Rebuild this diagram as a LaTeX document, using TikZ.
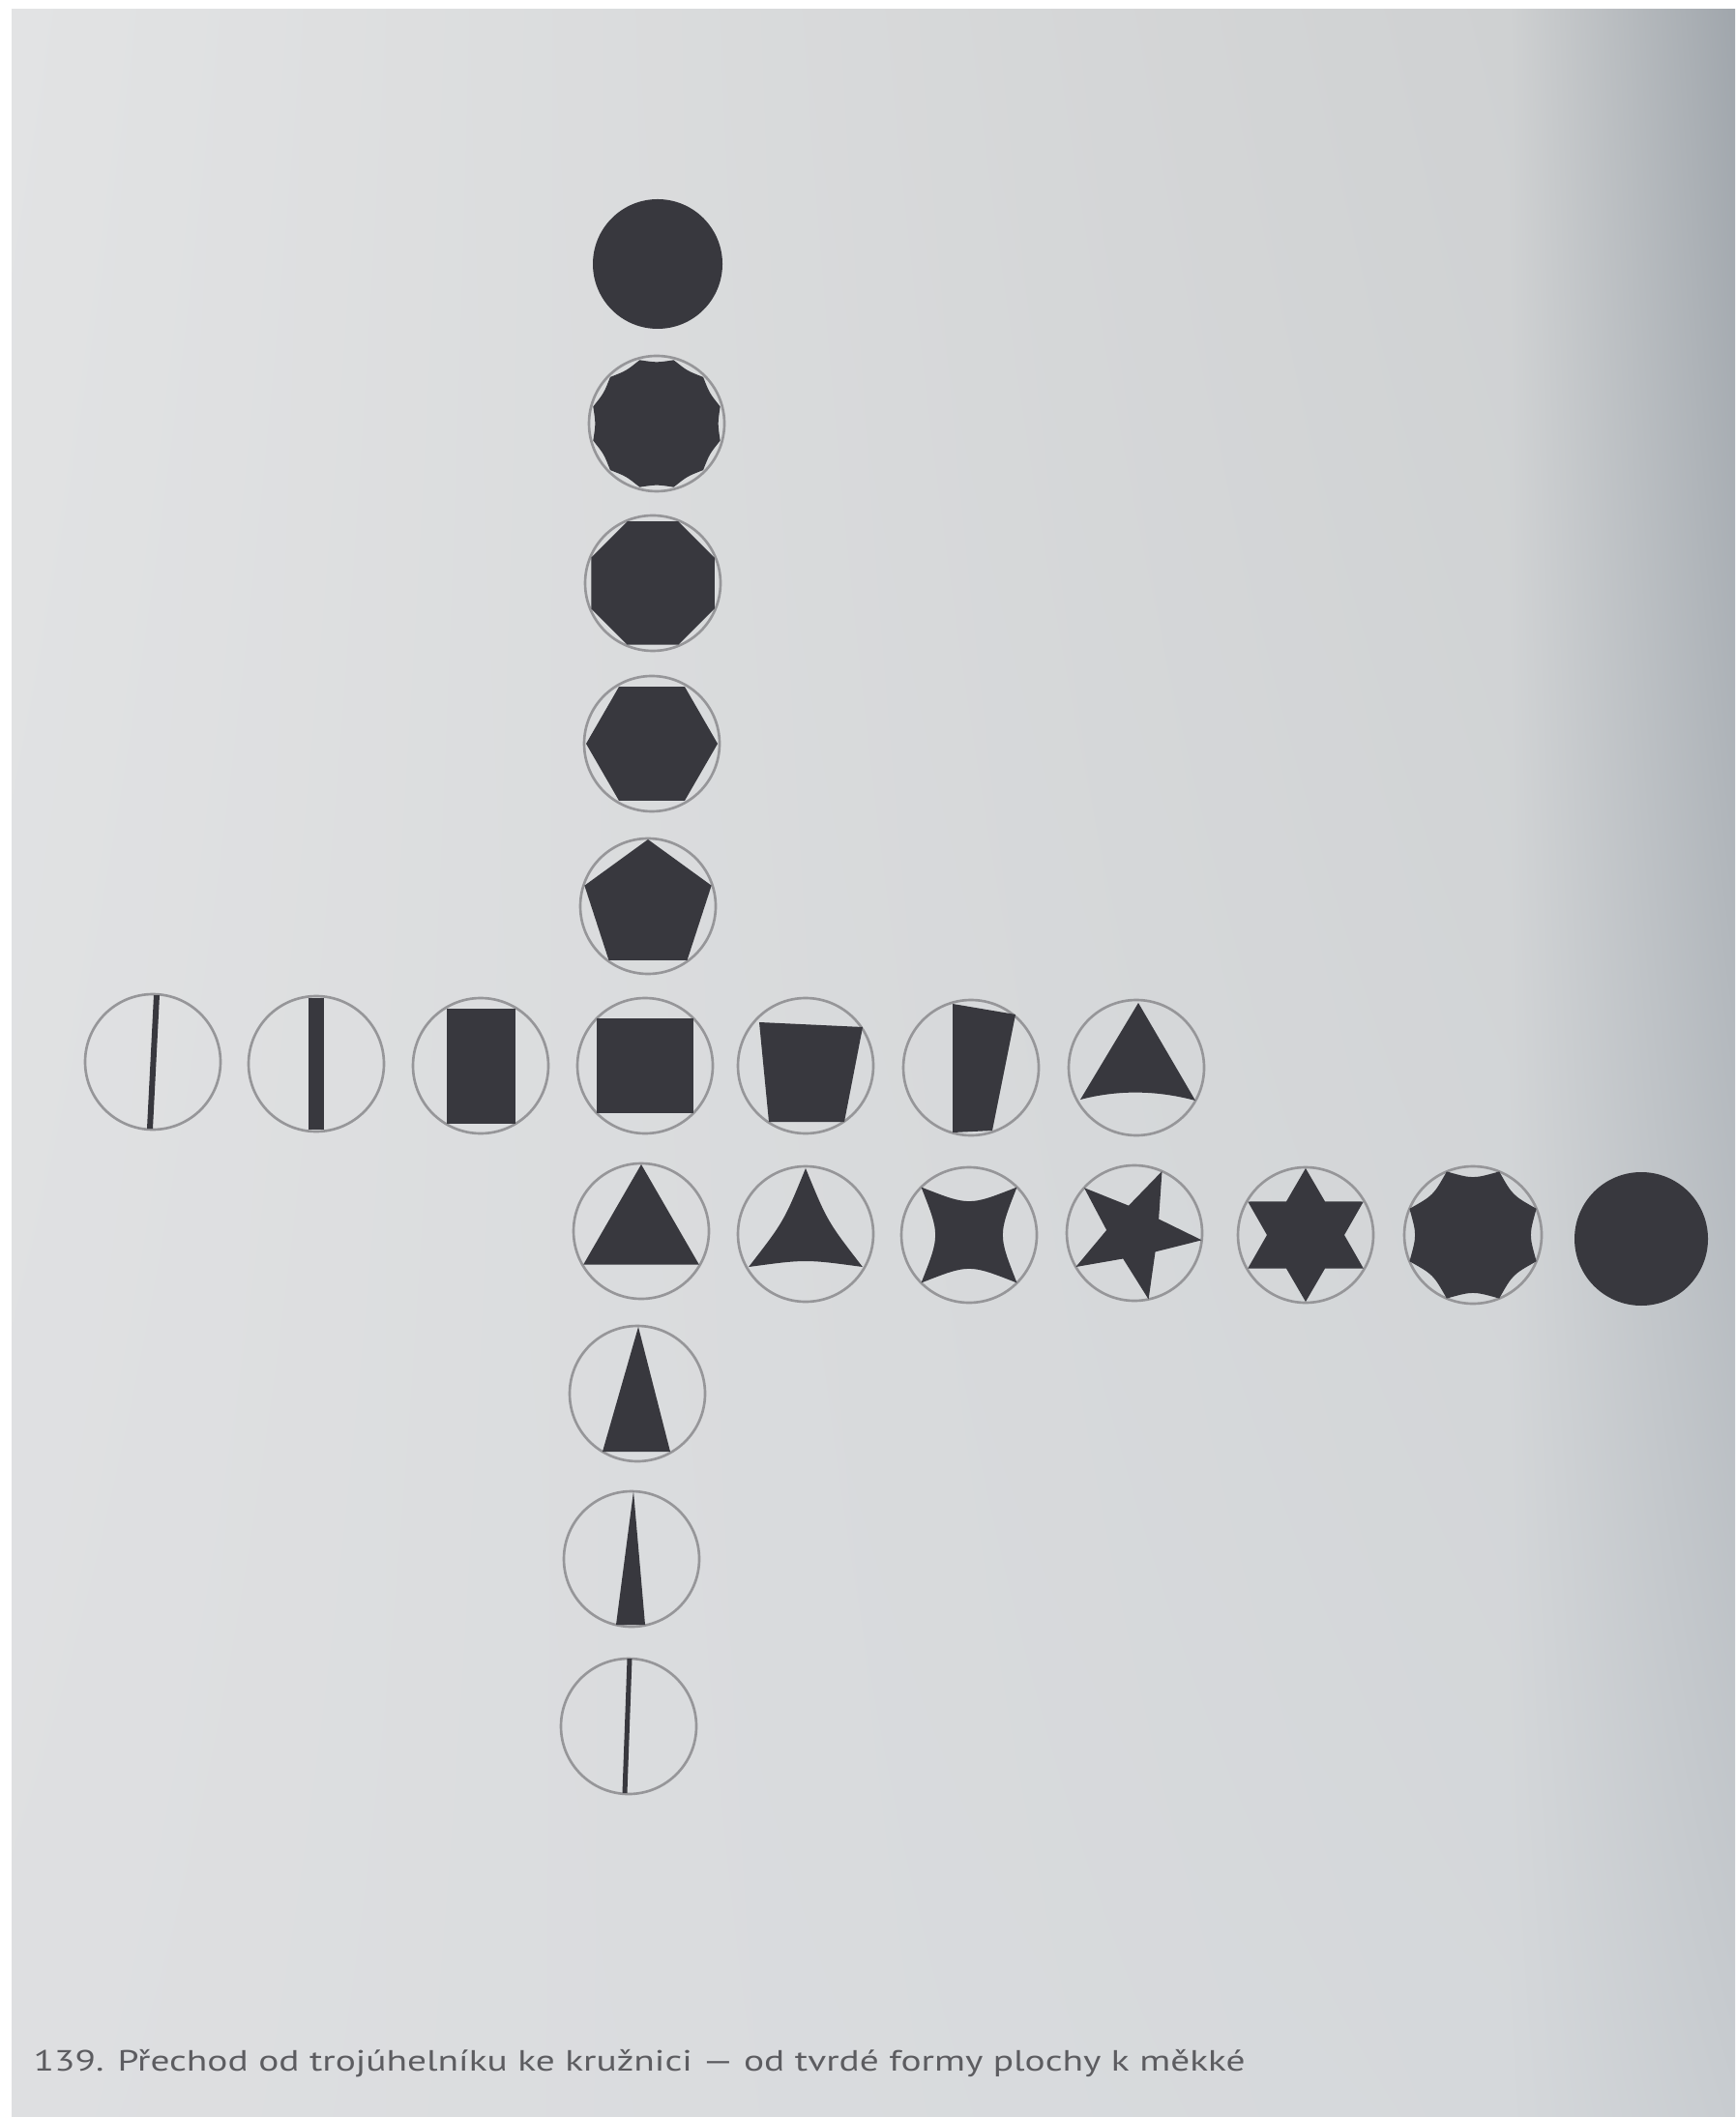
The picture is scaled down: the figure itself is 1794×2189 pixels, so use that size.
\documentclass[tikz,border=0pt]{standalone}
\usepackage{fontspec}
\usepackage{graphicx}
\usetikzlibrary{shadings}
\setmainfont{PT Sans}
\definecolor{ink}{RGB}{56,56,62}
\definecolor{guide}{RGB}{150,150,153}
\definecolor{captxt}{RGB}{92,92,96}
\definecolor{bgA}{RGB}{226,227,228}
\definecolor{bgB}{RGB}{207,209,210}
\definecolor{bgC}{RGB}{222,223,225}
\definecolor{bgD}{RGB}{213,216,219}
\definecolor{bgE}{RGB}{160,166,172}
\definecolor{bgF}{RGB}{200,204,208}
\begin{document}
\begin{tikzpicture}[x=0.01cm,y=0.01cm,
  guidecircle/.style={draw=guide,line width=0.75pt},
  blot/.style={fill=ink}]
\useasboundingbox (0,0) rectangle (1794,-2189);
% background page
\fill[white] (0,0) rectangle (1794,-2189);
\shade[upper left=bgA, upper right=bgB, lower left=bgC, lower right=bgD] (12,-10) rectangle (1560,-2189);
\shade[upper left=bgB, upper right=bgE, lower left=bgD, lower right=bgF] (1560,-10) rectangle (1794,-2189);

% ---------- vertical column (upper part) ----------
% circle
\fill[blot] (680,-273) circle[radius=67];
% scalloped 12-gon
\begin{scope}[shift={(679,-438)}]
  \draw[guidecircle] (0,0) circle[radius=70];
  \fill[blot] (15:68) foreach \i [evaluate=\i as \a using 15+30*\i, evaluate=\i as \m using 30*\i] in {1,...,12} { .. controls (\m:63) and (\m:63) .. (\a:68) } -- cycle;
\end{scope}
% octagon
\begin{scope}[shift={(675,-603)}]
  \draw[guidecircle] (0,0) circle[radius=70];
  \fill[blot] (22.5:69) foreach \a in {67.5,112.5,157.5,202.5,247.5,292.5,337.5} { -- (\a:69) } -- cycle;
\end{scope}
% hexagon
\begin{scope}[shift={(674,-769)}]
  \draw[guidecircle] (0,0) circle[radius=70];
  \fill[blot] (0:68) foreach \a in {60,120,180,240,300} { -- (\a:68) } -- cycle;
\end{scope}
% pentagon
\begin{scope}[shift={(670,-937)}]
  \draw[guidecircle] (0,0) circle[radius=70];
  \fill[blot] (90:69) foreach \a in {162,234,306,18} { -- (\a:69) } -- cycle;
\end{scope}

% ---------- horizontal row 1 ----------
\begin{scope}[shift={(158,-1098)}]
  \draw[guidecircle] (0,0) circle[radius=70];
  \fill[blot] (1,69) -- (7,69) -- (0,-69) -- (-6,-69) -- cycle;
\end{scope}
\begin{scope}[shift={(327,-1100)}]
  \draw[guidecircle] (0,0) circle[radius=70];
  \fill[blot] (-8,68) -- (8,68) -- (8,-68) -- (-8,-68) -- cycle;
\end{scope}
\begin{scope}[shift={(497,-1102)}]
  \draw[guidecircle] (0,0) circle[radius=70];
  \fill[blot] (-35,59) -- (36,59) -- (36,-60) -- (-35,-60) -- cycle;
\end{scope}
\begin{scope}[shift={(667,-1102)}]
  \draw[guidecircle] (0,0) circle[radius=70];
  \fill[blot] (-50,49) -- (50,49) -- (50,-49) -- (-50,-49) -- cycle;
\end{scope}
\begin{scope}[shift={(833,-1102)}]
  \draw[guidecircle] (0,0) circle[radius=70];
  \fill[blot] (-48,45) -- (59,40) -- (40,-58) -- (-38,-58) -- cycle;
\end{scope}
\begin{scope}[shift={(1004,-1104)}]
  \draw[guidecircle] (0,0) circle[radius=70];
  \fill[blot] (-19,66) -- (46,55) -- (22,-65) -- (-19,-67) -- cycle;
\end{scope}
\begin{scope}[shift={(1175,-1104)}]
  \draw[guidecircle] (0,0) circle[radius=70];
  \fill[blot] (2,67) -- (61,-34) .. controls (20,-23) and (-20,-23) .. (-58,-33) -- cycle;
\end{scope}

% ---------- horizontal row 2 ----------
\begin{scope}[shift={(663,-1273)}]
  \draw[guidecircle] (0,0) circle[radius=70];
  \fill[blot] (90:69) -- (210:69) -- (330:69) -- cycle;
\end{scope}
\begin{scope}[shift={(833,-1276)}]
  \draw[guidecircle] (0,0) circle[radius=70];
  \fill[blot] (90:68) .. controls (150:26) and (150:26) .. (210:68)
                      .. controls (270:26) and (270:26) .. (330:68)
                      .. controls (30:26) and (30:26) .. (90:68) -- cycle;
\end{scope}
\begin{scope}[shift={(1002,-1277)}]
  \draw[guidecircle] (0,0) circle[radius=70];
  \fill[blot] (45:70) foreach \i [evaluate=\i as \a using 45+90*\i, evaluate=\i as \m using 90*\i] in {1,...,4} { .. controls (\m:30) and (\m:30) .. (\a:70) } -- cycle;
\end{scope}
\begin{scope}[shift={(1173,-1275)}]
  \draw[guidecircle] (0,0) circle[radius=70];
  \fill[blot] (-6:70) foreach \i [evaluate=\i as \a using -6+72*\i, evaluate=\i as \b using -42+72*\i] in {1,...,5} { -- (\b:29) -- (\a:70) } -- cycle;
\end{scope}
\begin{scope}[shift={(1350,-1277)}]
  \draw[guidecircle] (0,0) circle[radius=70];
  \fill[blot] (90:69) foreach \i [evaluate=\i as \a using 90+60*\i, evaluate=\i as \b using 60+60*\i] in {1,...,6} { -- (\b:40) -- (\a:69) } -- cycle;
\end{scope}
\begin{scope}[shift={(1523,-1277)}]
  \draw[guidecircle] (0,0) circle[radius=71];
  \fill[blot] (22.5:71) foreach \i [evaluate=\i as \a using 22.5+45*\i, evaluate=\i as \m using 45*\i] in {1,...,8} { .. controls (\m:58) and (\m:58) .. (\a:71) } -- cycle;
\end{scope}
\fill[blot] (1697,-1281) circle[radius=69];

% ---------- vertical column (lower part) ----------
\begin{scope}[shift={(659,-1441)}]
  \draw[guidecircle] (0,0) circle[radius=70];
  \fill[blot] (1,69) -- (34,-60) -- (-36,-60) -- cycle;
\end{scope}
\begin{scope}[shift={(653,-1612)}]
  \draw[guidecircle] (0,0) circle[radius=70];
  \fill[blot] (2,70) -- (14,-68) -- (-16,-68) -- cycle;
\end{scope}
\begin{scope}[shift={(650,-1785)}]
  \draw[guidecircle] (0,0) circle[radius=70];
  \fill[blot] (-1.5,70) -- (3.5,70) -- (-1.5,-69) -- (-6.5,-69) -- cycle;
\end{scope}

% ---------- caption ----------
\node[anchor=base west, inner sep=0pt, text=captxt] (caption) at (34,-2141)
  {\resizebox{12.52cm}{\height}{\fontsize{8.6}{10}\selectfont 139. Přechod od trojúhelníku ke kružnici — od tvrdé formy plochy k měkké}};
\end{tikzpicture}
\end{document}
